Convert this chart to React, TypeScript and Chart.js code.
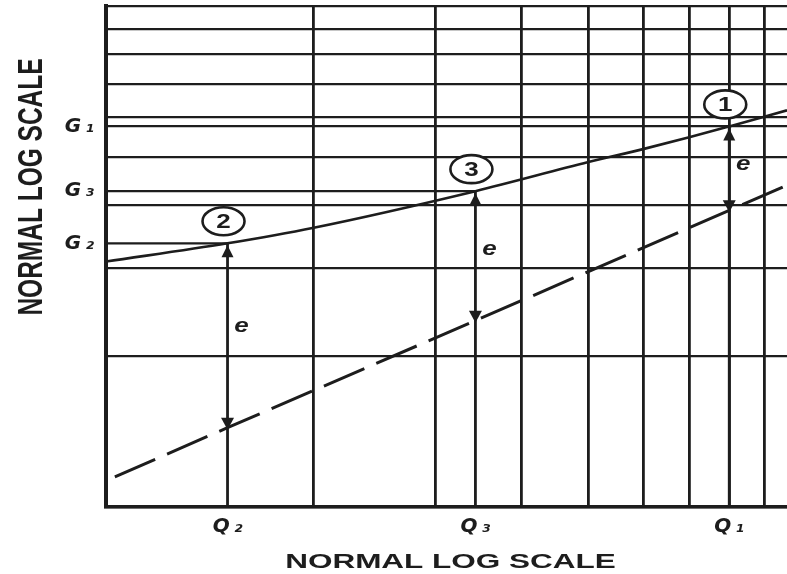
import React, { useEffect, useRef } from 'react';
import { Chart, registerables } from 'chart.js';

Chart.register(...registerables);

const INK = '#1d1d1d';

// grid decades
const xGridValues = [1, 2, 3, 4, 5, 6, 7, 8, 9];
const yGridValues = [1, 2, 3, 4, 5, 6, 7, 8, 9, 10];
const xRange = [1, 9.7];
const yRange = [1, 10];

// marked points (order: point 2, point 3, point 1)
const pointNumbers = ['2', '3', '1'];
const qLabels = ['Q\u2009\u2082', 'Q\u2009\u2083', 'Q\u2009\u2081'];
const qValues = [1.5, 3.43, 8];
const gLabels = ['G\u2009\u2082', 'G\u2009\u2083', 'G\u2009\u2081'];
const gValues = [3.36, 4.27, 5.75];
const gFullWidth = [false, false, true];
const lowValues = [1.44, 2.355, 3.91];
const gapLabel = 'e';

// solid curve
const curveQ = [1, 1.5, 2, 3.43, 5, 6, 7, 8, 9.7];
const curveG = [3.09, 3.36, 3.61, 4.27, 4.88, 5.18, 5.47, 5.75, 6.19];

// dashed line
const dashQ = [1.03, 1.5, 3.43, 8, 9.7];
const dashG = [1.148, 1.44, 2.355, 3.91, 4.385];

const axisTitle = 'NORMAL LOG SCALE';

const tickFont = { family: '"DejaVu Sans"', size: 20, style: 'italic' as const, weight: 'bold' as const };

const annotations = {
  id: 'annotations',
  afterDatasetsDraw(chart: any) {
    const { ctx } = chart;
    const x = chart.scales.x;
    const y = chart.scales.y;
    ctx.save();
    ctx.fillStyle = INK;
    ctx.strokeStyle = INK;
    qValues.forEach((q, i) => {
      const px = x.getPixelForValue(q);
      const top = y.getPixelForValue(gValues[i]);
      const low = y.getPixelForValue(lowValues[i]);
      // up arrowhead at curve
      ctx.beginPath();
      ctx.moveTo(px, top + 2);
      ctx.lineTo(px - 6, top + 14);
      ctx.lineTo(px + 6, top + 14);
      ctx.closePath();
      ctx.fill();
      // down arrowhead at dashed line
      ctx.beginPath();
      ctx.moveTo(px, low + 2);
      ctx.lineTo(px - 6.5, low - 10);
      ctx.lineTo(px + 6.5, low - 10);
      ctx.closePath();
      ctx.fill();
      // circled number
      const cx = px - 4;
      const cy = top - 22;
      ctx.fillStyle = '#ffffff';
      ctx.beginPath();
      ctx.ellipse(cx, cy, 21, 14, 0, 0, Math.PI * 2);
      ctx.fill();
      ctx.fillStyle = INK;
      ctx.lineWidth = 2.6;
      ctx.stroke();
      ctx.save();
      ctx.translate(cx, cy + 1);
      ctx.scale(1.3, 1);
      ctx.font = 'bold 20px "Liberation Sans"';
      ctx.textAlign = 'center';
      ctx.textBaseline = 'middle';
      ctx.fillText(pointNumbers[i], 0, 0);
      ctx.restore();
      // gap label
      ctx.save();
      ctx.translate(px + 14, top + (low - top) * 0.45);
      ctx.scale(1.3, 1);
      ctx.font = 'italic bold 20px "Liberation Sans"';
      ctx.textAlign = 'center';
      ctx.textBaseline = 'middle';
      ctx.fillText(gapLabel, 0, 0);
      ctx.restore();
    });
    ctx.restore();
  },
  afterDraw(chart: any) {
    const { ctx, chartArea } = chart;
    ctx.save();
    ctx.fillStyle = INK;
    ctx.textAlign = 'center';
    ctx.textBaseline = 'alphabetic';
    // x title
    ctx.save();
    ctx.translate((chartArea.left + chartArea.right) / 2 + 4, chartArea.bottom + 61);
    ctx.scale(1.5, 1);
    ctx.font = 'bold 21px "Liberation Sans"';
    ctx.fillText(axisTitle, 0, 0);
    ctx.restore();
    // y title
    ctx.save();
    ctx.translate(chartArea.left - 64, chartArea.top + 181);
    ctx.scale(1.43, 1);
    ctx.rotate(-Math.PI / 2);
    ctx.font = 'bold 24.5px "Liberation Sans"';
    ctx.fillText(axisTitle, 0, 0);
    ctx.restore();
    ctx.restore();
  },
};

export default function App() {
  const ref = useRef<HTMLCanvasElement | null>(null);

  useEffect(() => {
    if (!ref.current) return;
    const solid = curveQ.map((q, i) => ({ x: q, y: curveG[i] }));
    const dashed = dashQ.map((q, i) => ({ x: q, y: dashG[i] }));
    const verticals = qValues.map((q, i) => ({
      data: [
        { x: q, y: yRange[0] },
        { x: q, y: gValues[i] },
      ],
      borderColor: INK,
      borderWidth: 2.8,
      pointRadius: 0,
      tension: 0,
    }));
    const guides = gValues
      .map((g, i) => ({
        data: [
          { x: xRange[0], y: g },
          { x: qValues[i], y: g },
        ],
        borderColor: INK,
        borderWidth: 2.2,
        pointRadius: 0,
        tension: 0,
      }))
      .filter((_, i) => !gFullWidth[i]);

    const xTicks = Array.from(new Set([...xGridValues, ...qValues])).sort((a, b) => a - b);
    const yTicks = Array.from(new Set([...yGridValues, ...gValues])).sort((a, b) => a - b);

    const chart = new Chart(ref.current, {
      type: 'line',
      data: {
        datasets: [
          {
            data: solid,
            borderColor: INK,
            borderWidth: 2.6,
            pointRadius: 0,
            cubicInterpolationMode: 'monotone',
          },
          {
            data: dashed,
            borderColor: INK,
            borderWidth: 3,
            borderDash: [44, 13],
            pointRadius: 0,
            tension: 0,
          },
          ...verticals,
          ...guides,
        ] as any,
      },
      options: {
        animation: false,
        responsive: false,
        maintainAspectRatio: false,
        layout: { padding: { top: 6, right: 0, bottom: 0, left: 0 } },
        plugins: { legend: { display: false }, tooltip: { enabled: false }, title: { display: false } },
        scales: {
          x: {
            type: 'logarithmic',
            min: xRange[0],
            max: xRange[1],
            afterBuildTicks: (s: any) => {
              s.ticks = xTicks.map((v) => ({ value: v }));
            },
            afterFit: (s: any) => {
              s.height = 67;
              s.paddingLeft = 0;
              s.paddingRight = 0;
            },
            ticks: {
              autoSkip: false,
              maxRotation: 0,
              padding: 8,
              color: INK,
              font: tickFont,
              callback: (v: any) => {
                const i = qValues.indexOf(Number(v));
                return i >= 0 ? qLabels[i] : '';
              },
            },
            grid: {
              drawTicks: false,
              lineWidth: 2.8,
              color: (c: any) => {
                const v = c.tick ? c.tick.value : null;
                return v !== null && !xGridValues.includes(v) ? 'rgba(0,0,0,0)' : INK;
              },
            },
            border: { color: INK, width: 3.5 },
          },
          y: {
            type: 'logarithmic',
            min: yRange[0],
            max: yRange[1],
            afterBuildTicks: (s: any) => {
              s.ticks = yTicks.map((v) => ({ value: v }));
            },
            afterFit: (s: any) => {
              s.width = 106;
              s.paddingTop = 0;
              s.paddingBottom = 0;
            },
            ticks: {
              autoSkip: false,
              padding: 12,
              color: INK,
              font: tickFont,
              callback: (v: any) => {
                const i = gValues.indexOf(Number(v));
                return i >= 0 ? gLabels[i] : '';
              },
            },
            grid: {
              drawTicks: false,
              lineWidth: 2.2,
              color: (c: any) => {
                const v = c.tick ? c.tick.value : null;
                if (v === null) return INK;
                const gi = gValues.indexOf(v);
                if (gi >= 0 && !yGridValues.includes(v)) return gFullWidth[gi] ? INK : 'rgba(0,0,0,0)';
                return INK;
              },
            },
            border: { color: INK, width: 4 },
          },
        },
      },
      plugins: [annotations],
    } as any);
    return () => chart.destroy();
  }, []);

  return (
    <div style={{ position: 'absolute', left: 0, top: 0, width: 787, height: 574, background: '#ffffff' }}>
      <canvas ref={ref} width={787} height={574} style={{ display: 'block', width: 787, height: 574 }} />
    </div>
  );
}
